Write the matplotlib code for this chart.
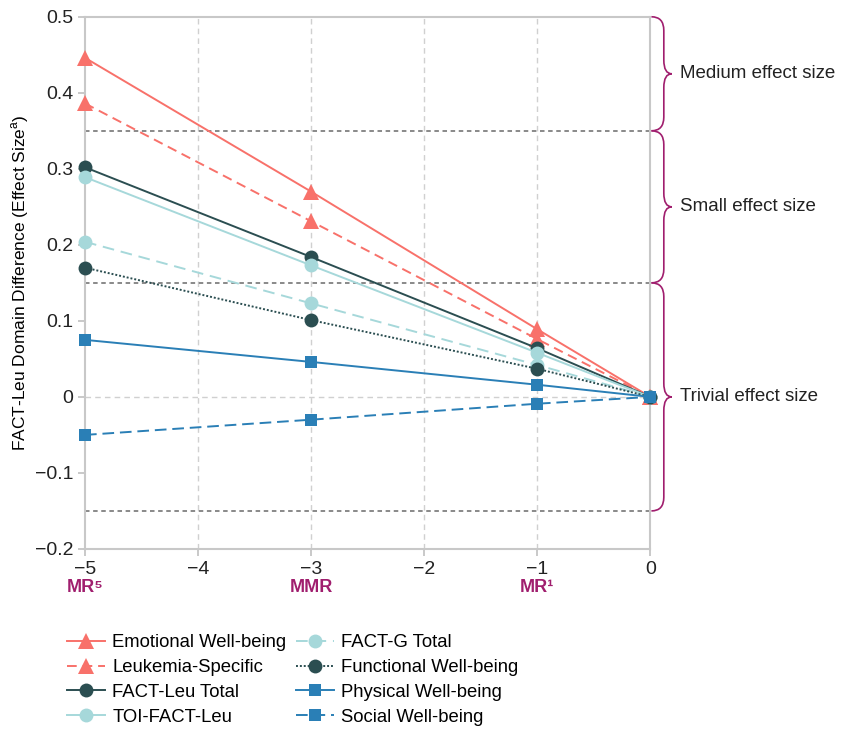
import numpy as np
import matplotlib.pyplot as plt
from matplotlib.path import Path
from matplotlib.patches import PathPatch
from matplotlib.transforms import blended_transform_factory
from matplotlib.lines import Line2D

plt.rcParams['font.family'] = ['Liberation Sans', 'DejaVu Sans']

x = [-5, -3, -1, 0]
emotional = [0.446, 0.270, 0.089, 0.0]
leukemia = [0.386, 0.231, 0.076, 0.0]
fact_leu = [0.302, 0.184, 0.064, 0.0]
toi = [0.289, 0.173, 0.058, 0.0]
fact_g = [0.204, 0.123, 0.042, 0.0]
functional = [0.170, 0.101, 0.037, 0.0]
physical = [0.075, 0.046, 0.016, 0.0]
social = [-0.050, -0.030, -0.009, 0.0]

thresholds = [0.35, 0.15, -0.15]
bands = [(0.5, 0.35, 'Medium effect size'),
         (0.35, 0.15, 'Small effect size'),
         (0.15, -0.15, 'Trivial effect size')]
regimen_pos = [-5, -3, -1]
regimen_labels = ['MR\u2075', 'MMR', 'MR\u00b9']

coral = '#f8716a'
dark = '#2b4e51'
light = '#a6d8da'
blue = '#2a7fb6'
purple = '#a01e6e'

series = [
    ('Emotional Well-being', emotional, coral, '-', '^', 11),
    ('Leukemia-Specific', leukemia, coral, (0, (5, 3)), '^', 11),
    ('FACT-Leu Total', fact_leu, dark, '-', 'o', 10),
    ('TOI-FACT-Leu', toi, light, '-', 'o', 10),
    ('FACT-G Total', fact_g, light, (0, (6, 3.5)), 'o', 10),
    ('Functional Well-being', functional, dark, (0, (1, 1)), 'o', 10),
    ('Physical Well-being', physical, blue, '-', 's', 9),
    ('Social Well-being', social, blue, (0, (6, 3)), 's', 9),
]

fig = plt.figure(figsize=(8.5, 7.29), dpi=100)
ax = fig.add_axes([0.1, 0.247, 0.665, 0.73])

for xv in [-4, -3, -2, -1]:
    ax.axvline(xv, color='#d0d0d0', lw=1, ls=(0, (4, 3)), zorder=0)
ax.axhline(0, color='#d0d0d0', lw=1, ls=(0, (4, 3)), zorder=0)
for t in thresholds:
    ax.axhline(t, color='#808080', lw=1.3, ls=(0, (2.5, 2)), zorder=1)

handles = []
for name, vals, col, ls, mk, ms in series:
    ax.plot(x, vals, color=col, ls=ls, lw=1.4, marker=mk, ms=ms,
            markeredgewidth=0, clip_on=False, zorder=3)
    handles.append(Line2D([], [], color=col, ls=ls, lw=1.4, marker=mk,
                          ms=ms, markeredgewidth=0))

ax.set_xlim(-5, 0)
ax.set_ylim(-0.2, 0.5)
ax.set_xticks([-5, -4, -3, -2, -1, 0])
ax.set_yticks([-0.2, -0.1, 0, 0.1, 0.2, 0.3, 0.4, 0.5])
ax.set_yticklabels(['\u22120.2', '\u22120.1', '0', '0.1', '0.2', '0.3', '0.4', '0.5'])
ax.set_xticklabels(['\u22125', '\u22124', '\u22123', '\u22122', '\u22121', '0'])
ax.tick_params(labelsize=14, length=5, width=1.2, colors='#222222')
ax.tick_params(axis='both', color='#c0c0c0')
for s in ax.spines.values():
    s.set_color('#c8c8c8')
    s.set_linewidth(1.5)
ax.set_ylabel('FACT-Leu Domain Difference (Effect Size$^{\\mathregular{a}}$)',
              fontsize=12.5, labelpad=3)

# regimen labels under the x axis
trans_x = blended_transform_factory(ax.transData, ax.transAxes)
for p, lab in zip(regimen_pos, regimen_labels):
    ax.text(p, -0.072, lab, transform=trans_x, ha='center', va='center',
            color=purple, fontsize=13, fontweight='bold')

# braces to the right
trans_b = blended_transform_factory(ax.transAxes, ax.transData)
x0, x1, x2 = 1.002, 1.024, 1.038
r = 0.018
for top, bot, lab in bands:
    ym = (top + bot) / 2
    verts = [(x0, top), (x1, top), (x1, top - r),
             (x1, ym + r), (x1, ym), (x2, ym),
             (x1, ym), (x1, ym - r),
             (x1, bot + r), (x1, bot), (x0, bot)]
    codes = [Path.MOVETO, Path.CURVE3, Path.CURVE3,
             Path.LINETO, Path.CURVE3, Path.CURVE3,
             Path.CURVE3, Path.CURVE3,
             Path.LINETO, Path.CURVE3, Path.CURVE3]
    ax.add_patch(PathPatch(Path(verts, codes), fill=False, ec=purple, lw=1.2,
                           transform=trans_b, clip_on=False))
    ax.text(1.053, ym, lab, transform=trans_b, va='center', ha='left',
            fontsize=13.5, color='#222222')

fig.legend(handles, [s[0] for s in series], ncol=2, loc='upper left',
           bbox_to_anchor=(0.079, 0.13), frameon=False, fontsize=13.3,
           handlelength=2.05, handletextpad=0.4, columnspacing=0.5,
           labelspacing=0.42, borderaxespad=0, borderpad=0)

plt.savefig('out.png', dpi=100)
